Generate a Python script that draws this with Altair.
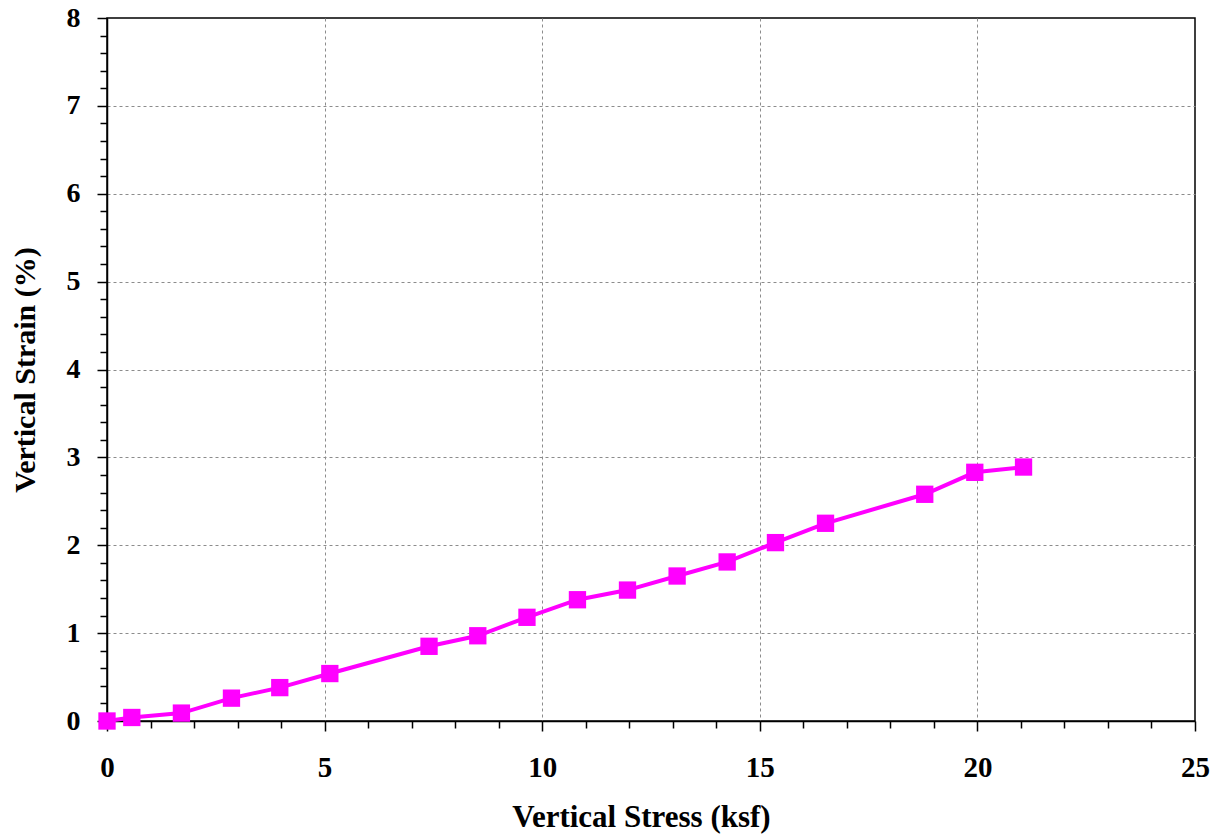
import altair as alt
import pandas as pd

# Data
stress_ksf = [0.0, 0.57, 1.71, 2.86, 3.97, 5.12, 7.40, 8.52, 9.65, 10.81,
              11.96, 13.10, 14.25, 15.36, 16.51, 18.79, 19.94, 21.06]
strain_pct = [0.0, 0.04, 0.09, 0.26, 0.38, 0.54, 0.85, 0.97, 1.18, 1.38,
              1.49, 1.65, 1.81, 2.03, 2.25, 2.58, 2.83, 2.89]

x_ticks = list(range(0, 26))
y_ticks = [round(i * 0.2, 1) for i in range(0, 41)]

df = pd.DataFrame({"stress": stress_ksf, "strain": strain_pct})

FONT = "Liberation Serif"
MAGENTA = "#FF00FF"

x_axis = alt.Axis(
    values=x_ticks,
    title="Vertical Stress (ksf)",
    labelExpr="datum.value % 5 === 0 ? format(datum.value, 'd') : ''",
    labelFont=FONT, labelFontSize=29, labelFontWeight="bold", labelColor="black",
    labelPadding=22, labelFlush=False,
    titleFont=FONT, titleFontSize=31, titleFontWeight="bold", titleColor="black",
    titlePadding=20, titleX=534,
    domainColor="black", domainWidth=1.5,
    tickColor="black", tickWidth=1.5,
    tickSize={"condition": {"test": "datum.value % 5 === 0", "value": 10}, "value": 7},
    grid=True, gridColor="#8c8c8c", gridWidth=1, gridDash=[3, 3],
    gridOpacity={"condition": {"test": "datum.value % 5 === 0 && datum.value > 0 && datum.value < 25", "value": 1}, "value": 0},
)

y_axis = alt.Axis(
    values=y_ticks,
    title="Vertical Strain (%)",
    labelExpr="abs(datum.value - round(datum.value)) < 0.001 ? format(datum.value, 'd') : ''",
    labelFont=FONT, labelFontSize=28, labelFontWeight="bold", labelColor="black",
    labelPadding=17, labelFlush=False,
    titleFont=FONT, titleFontSize=30, titleFontWeight="bold", titleColor="black",
    titlePadding=26,
    domainColor="black", domainWidth=1.5,
    tickColor="black", tickWidth=1.5,
    tickSize={"condition": {"test": "abs(datum.value - round(datum.value)) < 0.001", "value": 10}, "value": 7},
    grid=True, gridColor="#8c8c8c", gridWidth=1, gridDash=[3, 3],
    gridOpacity={"condition": {"test": "abs(datum.value - round(datum.value)) < 0.001 && datum.value > 0.5 && datum.value < 7.5", "value": 1}, "value": 0},
)

x_enc = alt.X("stress:Q", scale=alt.Scale(domain=[0, 25], nice=False, zero=False), axis=x_axis)
y_enc = alt.Y("strain:Q", scale=alt.Scale(domain=[0, 8], nice=False, zero=False), axis=y_axis)

line = alt.Chart(df).mark_line(color=MAGENTA, strokeWidth=4).encode(x=x_enc, y=y_enc)
pts = alt.Chart(df).mark_point(shape="square", filled=True, size=300, color=MAGENTA, opacity=1).encode(x=x_enc, y=y_enc)

chart = (
    alt.layer(line, pts)
    .properties(
        width=1088, height=703,
        autosize=alt.AutoSizeParams(type="none"),
        padding={"left": 99, "top": 10, "right": 18, "bottom": 116},
        background="white",
    )
    .configure_view(stroke="black", strokeWidth=1.5)
)

chart.save("out.html", embed_options={"renderer": "svg", "actions": False})
